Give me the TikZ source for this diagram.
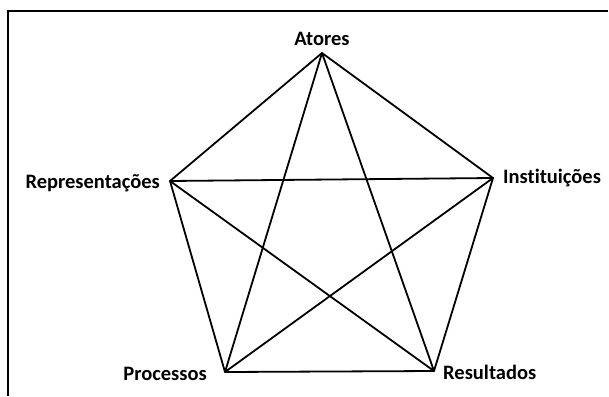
\documentclass[tikz,border=0pt]{standalone}
\usepackage{fontspec}
\setmainfont{Carlito}[Ligatures=NoCommon]
\usepackage{tikz}
\usetikzlibrary{positioning}

\begin{document}
\begin{tikzpicture}[x=1pt, y=-1pt,
    label/.style={font=\bfseries\fontsize{20.5}{22}\selectfont, inner sep=2pt},
    edge/.style={line width=1.8pt, line join=round}]
    \useasboundingbox (0,0) rectangle (609,396);

    % frame
    \draw [line width=2.4pt] (8,396) -- (8,11) -- (608,11);

    % vertices of the pentagon
    \coordinate (atores) at (322,53);
    \coordinate (inst) at (493,178);
    \coordinate (result) at (434,371);
    \coordinate (proc) at (225,372);
    \coordinate (repr) at (170,181);

    \node [label, above=5pt of atores] (atoresL) {Atores};
    \node [label, right=8pt of inst] (instL) {Instituições};
    \node [label, right=7pt of result, yshift=-1pt] (resultL) {Resultados};
    \node [label, left=16pt of proc, yshift=-2pt] (procL) {Processos};
    \node [label, left=8pt of repr, yshift=-2pt] (reprL) {Representações};

    % outer pentagon
    \draw [edge] (atores) -- (inst) -- (result) -- (proc) -- (repr) -- cycle;
    % inner star
    \draw [edge] (atores) -- (result) -- (repr) -- (inst) -- (proc) -- cycle;
\end{tikzpicture}
\end{document}
